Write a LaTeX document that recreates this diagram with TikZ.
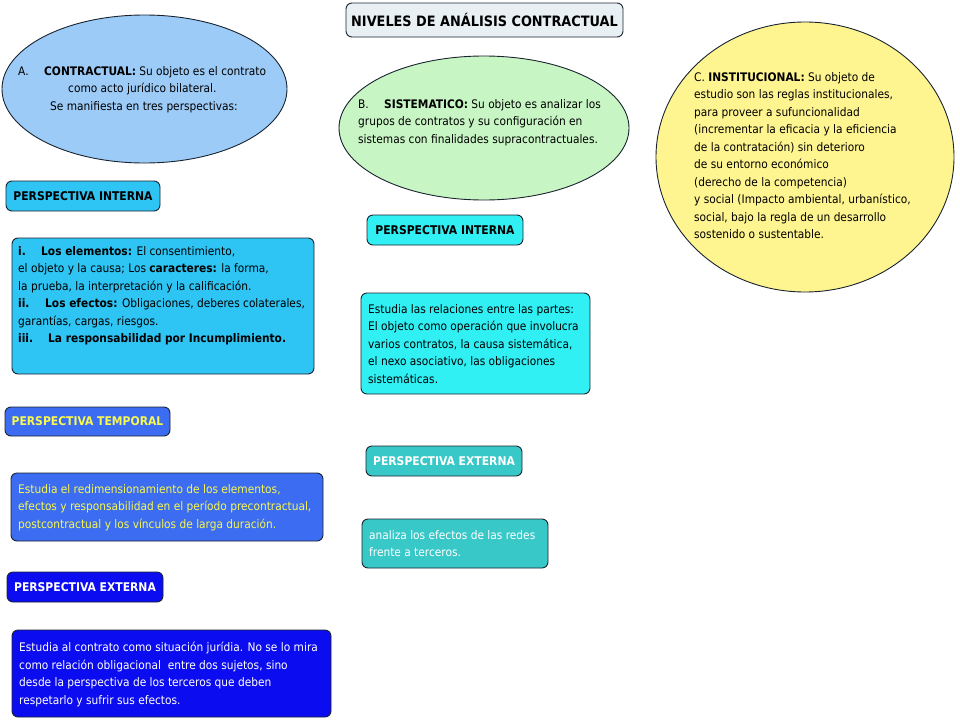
\documentclass[tikz,border=0pt]{standalone}
\usepackage{fontspec}
\setmainfont{DejaVu Sans Condensed}
\usetikzlibrary{shapes.geometric}
\definecolor{edge}{HTML}{1A2430}
\definecolor{titlefill}{HTML}{E8F0F4}
\definecolor{ellA}{HTML}{9CCBF8}
\definecolor{ellB}{HTML}{C8F5C4}
\definecolor{ellC}{HTML}{FFF590}
\definecolor{cyanA}{HTML}{2EC4F4}
\definecolor{tempblue}{HTML}{3C6CF2}
\definecolor{extblue}{HTML}{0C0CF0}
\definecolor{cyanB}{HTML}{30F0F4}
\definecolor{teal}{HTML}{38C8C8}
\definecolor{yel}{HTML}{F8F850}
\begin{document}
\begin{tikzpicture}[x=1pt,y=-1pt,
  rbox/.style={draw=edge, line width=0.9pt, rounded corners=6pt, inner sep=0pt},
  hdr/.style={rbox, font=\fontsize{12}{14}\selectfont\bfseries},
  oval/.style={ellipse, draw=edge, line width=0.9pt, inner sep=0pt},
  txt/.style={anchor=north west, inner sep=0pt, align=left, font=\fontsize{11.8}{17.5}\selectfont}]
\useasboundingbox (0,0) rectangle (960,720);

% title
\node[rbox, fill=titlefill, minimum width=277, minimum height=34,
      font=\fontsize{14.3}{17}\selectfont\bfseries] (title) at (484.5,20) {NIVELES DE ANÁLISIS CONTRACTUAL};

% ellipses
\node[oval, fill=ellA, minimum width=285, minimum height=148] (A) at (144.5,89) {};
\node[txt] (Atxt) at (18,66) {\makebox[26pt][l]{A.}\textbf{CONTRACTUAL:} Su objeto es el contrato\\
\hspace*{50pt}como acto jurídico bilateral.\\
\hspace*{32pt}Se manifiesta en tres perspectivas:};

\node[oval, fill=ellB, minimum width=290, minimum height=144] (B) at (484,128) {};
\node[txt] (Btxt) at (358,99) {\makebox[26pt][l]{B.}\textbf{SISTEMATICO:} Su objeto es analizar los\\
grupos de contratos y su configuración en\\
sistemas con finalidades supracontractuales.};

\node[oval, fill=ellC, minimum width=298, minimum height=270] (C) at (805,157) {};
\node[txt] (Ctxt) at (694,72) {C. \textbf{INSTITUCIONAL:} Su objeto de\\
estudio son las reglas institucionales,\\
para proveer a sufuncionalidad\\
(incrementar la eficacia y la eficiencia\\
de la contratación) sin deterioro\\
de su entorno económico\\
(derecho de la competencia)\\
y social (Impacto ambiental, urbanístico,\\
social, bajo la regla de un desarrollo\\
sostenido o sustentable.};

% left column
\node[hdr, fill=cyanA, minimum width=154, minimum height=30] (h1) at (83,196) {PERSPECTIVA INTERNA};
\node[rbox, fill=cyanA, minimum width=302, minimum height=136] (b1) at (163,306) {};
\node[txt] (t1) at (18,246) {\makebox[23pt][l]{\textbf{i.}}\textbf{Los elementos:} El consentimiento,\\
el objeto y la causa; Los \textbf{caracteres:} la forma,\\
la prueba, la interpretación y la calificación.\\
\makebox[27pt][l]{\textbf{ii.}}\textbf{Los efectos:} Obligaciones, deberes colaterales,\\
garantías, cargas, riesgos.\\
\makebox[30pt][l]{\textbf{iii.}}\textbf{La responsabilidad por Incumplimiento.}};

\node[hdr, fill=tempblue, text=yel, minimum width=165, minimum height=29] (h2) at (87.5,421.5) {PERSPECTIVA TEMPORAL};
\node[rbox, fill=tempblue, minimum width=312, minimum height=68] (b2) at (167,507) {};
\node[txt, text=yel] (t2) at (18,484) {Estudia el redimensionamiento de los elementos,\\
efectos y responsabilidad en el período precontractual,\\
postcontractual y los vínculos de larga duración.};

\node[hdr, fill=extblue, text=white, minimum width=156, minimum height=30] (h3) at (85,587) {PERSPECTIVA EXTERNA};
\node[rbox, fill=extblue, minimum width=319, minimum height=87] (b3) at (171.5,673.5) {};
\node[txt, text=white] (t3) at (19,642) {Estudia al contrato como situación jurídia. No se lo mira\\
como relación obligacional\ \ entre dos sujetos, sino\\
desde la perspectiva de los terceros que deben\\
respetarlo y sufrir sus efectos.};

% middle column
\node[hdr, fill=cyanB, minimum width=156, minimum height=30] (h4) at (445,230) {PERSPECTIVA INTERNA};
\node[rbox, fill=cyanB, minimum width=229, minimum height=101] (b4) at (475.5,343.5) {};
\node[txt] (t4) at (368,304) {Estudia las relaciones entre las partes:\\
El objeto como operación que involucra\\
varios contratos, la causa sistemática,\\
el nexo asociativo, las obligaciones\\
sistemáticas.};

\node[hdr, fill=teal, text=white, minimum width=156, minimum height=30] (h5) at (444,461) {PERSPECTIVA EXTERNA};
\node[rbox, fill=teal, minimum width=186, minimum height=49] (b5) at (455,543.5) {};
\node[txt, text=white] (t5) at (369,530) {analiza los efectos de las redes\\
frente a terceros.};
\end{tikzpicture}
\end{document}
